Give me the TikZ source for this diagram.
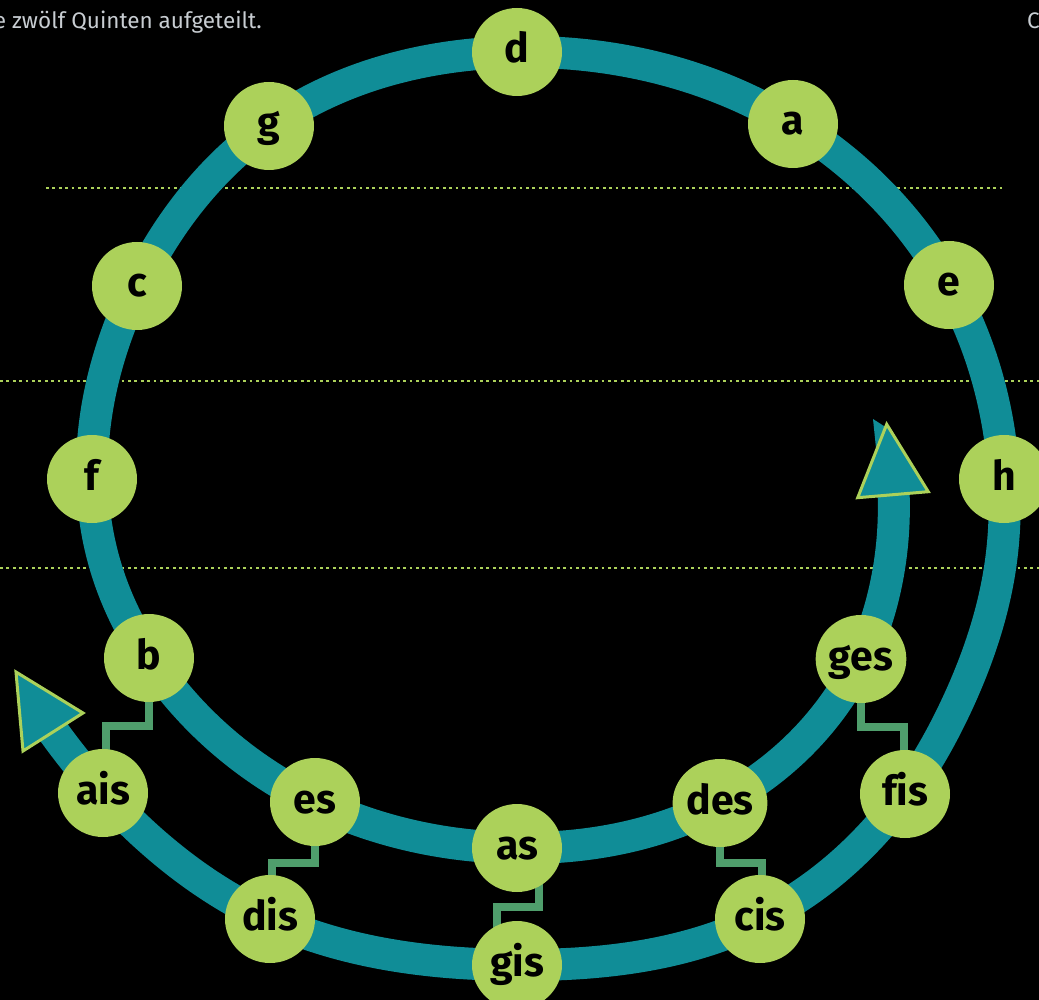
\documentclass[tikz,border=0pt]{standalone}
\usepackage{fontspec}
\setmainfont{Fira Sans}[Ligatures=NoCommon]
\usetikzlibrary{shapes.geometric,hobby}
\definecolor{bandc}{RGB}{16,141,151}
\definecolor{lime}{RGB}{172,209,90}
\definecolor{brkc}{RGB}{79,158,108}
\definecolor{hdr}{RGB}{200,205,210}
\begin{document}
\begin{tikzpicture}[x=1pt,y=-1pt,
  note/.style={ellipse, fill=lime, minimum width=90pt, minimum height=88pt, inner sep=0pt,
    text=black, font=\fontsize{41}{41}\selectfont\bfseries, text height=22pt, text depth=0pt},
  band/.style={draw=bandc, line width=32pt},
  brk/.style={draw=brkc, line width=8pt},
  dots/.style={draw=lime, line width=2.7pt, dash pattern=on 2.7pt off 3.7pt},
  tri/.style={fill=bandc, draw=lime, line width=3pt, line join=miter},
  hd/.style={text=hdr, font=\fontsize{22.5}{22.5}\selectfont, inner sep=0pt}]
\fill[black] (0,0) rectangle (1039,1000);
\useasboundingbox (0,0) rectangle (1039,1000);
\clip (0,0) rectangle (1039,1000);

% positions
\coordinate (pd) at (517,52);
\coordinate (pa) at (793,124);
\coordinate (pg) at (269,126);
\coordinate (pe) at (949,285);
\coordinate (pc) at (137,286);
\coordinate (ph) at (1004,479);
\coordinate (pf) at (92,479);
\coordinate (pges) at (861,659);
\coordinate (pb) at (149,658);
\coordinate (pfis) at (905,794);
\coordinate (pais) at (103,793);
\coordinate (pdes) at (720,803);
\coordinate (pes) at (315,802);
\coordinate (pcis) at (760,919);
\coordinate (pdis) at (270,919);
\coordinate (pas) at (517,848);
\coordinate (pgis) at (517,965);

% dotted guide lines
\draw[dots] (46,188) -- (1003,188);
\draw[dots] (0,381) -- (1039,381);
\draw[dots] (0,568) -- (1039,568);

% spiral band
\coordinate (s1) at (892,470);
\coordinate (s2) at (889,568);
\coordinate (s3) at (106,568);
\coordinate (s4) at (1000,568);
\coordinate (s5) at (959,700);
\coordinate (s6) at (50,727);
\draw[band, use Hobby shortcut] (s1) .. (s2) .. (pges) .. (pdes) .. (pas) .. (pes) .. (pb) .. (s3) .. (pf) .. (pc) .. (pg) .. (pd) .. (pa) .. (pe) .. (ph) .. (s4) .. (s5) .. (pfis) .. (pcis) .. (pgis) .. (pdis) .. (pais) .. (s6);
\fill[bandc] (873,419) -- (887,428) -- (876,448) -- cycle;

% arrow heads
\draw[tri] (857.7,497.7) -- (928.3,491.7) -- (886.7,424.3) -- cycle;
\draw[tri] (16,672) -- (83,713) -- (23,751) -- cycle;

% enharmonic brackets
\coordinate (k1) at (106,726);
\coordinate (k2) at (272,863);
\coordinate (k3) at (497,907);
\coordinate (k4) at (762,863);
\coordinate (k5) at (904,727);
\draw[brk] (pb) |- (k1) |- (pais);
\draw[brk] (pes) |- (k2) |- (pdis);
\draw[brk] ([xshift=22pt]pas) |- (k3) |- (pgis);
\draw[brk] (pdes) |- (k4) |- (pcis);
\draw[brk] (pges) |- (k5) |- (pfis);

% notes
\node[note] (d) at (pd) {d};
\node[note] (a) at (pa) {a};
\node[note] (g) at (pg) {g};
\node[note] (e) at (pe) {e};
\node[note] (c) at (pc) {c};
\node[note] (h) at (ph) {h};
\node[note] (f) at (pf) {f};
\node[note] (ges) at (pges) {ges};
\node[note] (b) at (pb) {b};
\node[note] (fis) at (pfis) {fis};
\node[note] (ais) at (pais) {ais};
\node[note] (des) at (pdes) {des};
\node[note] (es) at (pes) {es};
\node[note] (cis) at (pcis) {cis};
\node[note] (dis) at (pdis) {dis};
\node[note] (as) at (pas) {as};
\node[note] (gis) at (pgis) {gis};

% header fragments
\node[hd, anchor=base east] (cap1) at (262,29) {e zwölf Quinten aufgeteilt.};
\node[hd, anchor=base west] (cap2) at (1027,29) {C};
\end{tikzpicture}
\end{document}
